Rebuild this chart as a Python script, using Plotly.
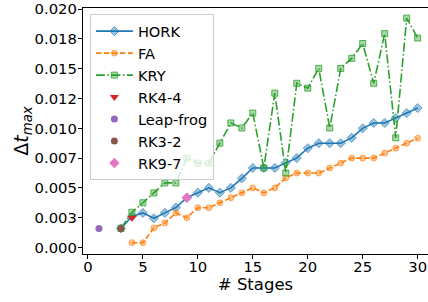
import plotly.graph_objects as go

# ---- data ----
hork_x = list(range(3, 31))
hork_y = [0.0016, 0.0026, 0.0029, 0.00245, 0.0029, 0.00335, 0.00417, 0.0046, 0.005, 0.0046,
          0.005, 0.0058, 0.00667, 0.00667, 0.00667, 0.0071, 0.0075, 0.00833, 0.00875, 0.00875,
          0.00875, 0.0092, 0.01, 0.01045, 0.01045, 0.01087, 0.01128, 0.0117]
fa_x = list(range(4, 31))
fa_y = [0.0004, 0.0004, 0.00164, 0.00206, 0.0029, 0.0025, 0.00333, 0.00333, 0.00375, 0.00417,
        0.00458, 0.005, 0.00458, 0.005, 0.00583, 0.00625, 0.00625, 0.00625, 0.00667, 0.00708,
        0.0075, 0.0075, 0.0075, 0.00792, 0.00833, 0.00875, 0.00917]
kry_x = list(range(3, 31))
kry_y = [0.0016, 0.00295, 0.00375, 0.00458, 0.00542, 0.00542, 0.0075, 0.00708, 0.00708, 0.00875,
         0.01045, 0.01003, 0.01128, 0.00667, 0.01295, 0.00625, 0.01378, 0.01337, 0.01503, 0.01003,
         0.01503, 0.01587, 0.01712, 0.01378, 0.01795, 0.0092, 0.01925, 0.01758]
single_names = ["RK4-4", "Leap-frog", "RK3-2", "RK9-7"]
single_x = [4, 1, 3, 9]
single_y = [0.0025, 0.0016, 0.0016, 0.00417]

ytick_vals = [0, 0.0025, 0.005, 0.0075, 0.01, 0.0125, 0.015, 0.0175, 0.02]
ytick_text = ["0.000", "0.003", "0.005", "0.007", "0.010", "0.012", "0.015", "0.018", "0.020"]
xtick_vals = [0, 5, 10, 15, 20, 25, 30]

FONT = "DejaVu Sans"

def rgba(rgb, a):
    return "rgba(%d,%d,%d,%.2f)" % (rgb[0], rgb[1], rgb[2], a)

BLUE = (31, 119, 180)
ORANGE = (255, 127, 14)
GREEN = (44, 160, 44)

fig = go.Figure()
fig.add_trace(go.Scatter(
    x=hork_x, y=hork_y, name="HORK", mode="lines+markers",
    line=dict(color=rgba(BLUE, 1), width=1.6),
    marker=dict(symbol="diamond", size=7, color=rgba(BLUE, 0.45),
                line=dict(color=rgba(BLUE, 0.6), width=1))))
fig.add_trace(go.Scatter(
    x=fa_x, y=fa_y, name="FA", mode="lines+markers",
    line=dict(color=rgba(ORANGE, 1), width=1.6, dash="5.5px,2.5px"),
    marker=dict(symbol="circle", size=6, color=rgba(ORANGE, 0.45),
                line=dict(color=rgba(ORANGE, 0.6), width=1))))
fig.add_trace(go.Scatter(
    x=kry_x, y=kry_y, name="KRY", mode="lines+markers",
    line=dict(color=rgba(GREEN, 1), width=1.6, dash="9px,2.5px,1.5px,2.5px"),
    marker=dict(symbol="square", size=6, color=rgba(GREEN, 0.4),
                line=dict(color=rgba(GREEN, 0.8), width=1))))

single_colors = ["#d62728", "#9467bd", "#8c564b", "#e377c2"]
single_symbols = ["triangle-down", "circle", "circle", "diamond"]
single_sizes = [8, 7, 7, 8]
for n, x, y, c, s, sz in zip(single_names, single_x, single_y, single_colors, single_symbols, single_sizes):
    fig.add_trace(go.Scatter(x=[x], y=[y], name=n, mode="markers",
                             marker=dict(symbol=s, size=sz, color=c, line=dict(width=0))))

axis_common = dict(showline=True, linecolor="black", linewidth=1.2, ticks="outside",
                   ticklen=4, tickcolor="black", tickwidth=1, showgrid=False, zeroline=False,
                   ticklabeloverflow="allow",
                   tickfont=dict(family=FONT, size=14.8, color="black"))

fig.update_layout(
    width=428, height=302,
    margin=dict(l=83, r=0, t=6, b=48),
    paper_bgcolor="white", plot_bgcolor="white",
    font=dict(family=FONT, color="black"),
    showlegend=True,
    legend=dict(x=0.02, y=0.975, xanchor="left", yanchor="top",
                bgcolor="rgba(255,255,255,0.8)", bordercolor="#cccccc", borderwidth=1,
                font=dict(family=FONT, size=14.6), tracegroupgap=0, itemwidth=37),
    xaxis=dict(range=[-0.45, 30.94], tickvals=xtick_vals, mirror=True, ticklabelstandoff=-5,
               title=dict(text="# Stages", font=dict(family=FONT, size=16.5), standoff=0),
               **axis_common),
    yaxis=dict(range=[-0.00055, 0.0201], tickvals=ytick_vals, ticktext=ytick_text, mirror=False,
               ticklabelstandoff=-2,
               title=dict(text="Δ<i>t</i><sub><i>max</i></sub>", font=dict(family=FONT, size=19), standoff=0),
               **axis_common),
)

fig.write_html("out.html", config={"displayModeBar": False},
               post_script="document.body.style.margin='0';document.body.style.overflow='hidden';")
